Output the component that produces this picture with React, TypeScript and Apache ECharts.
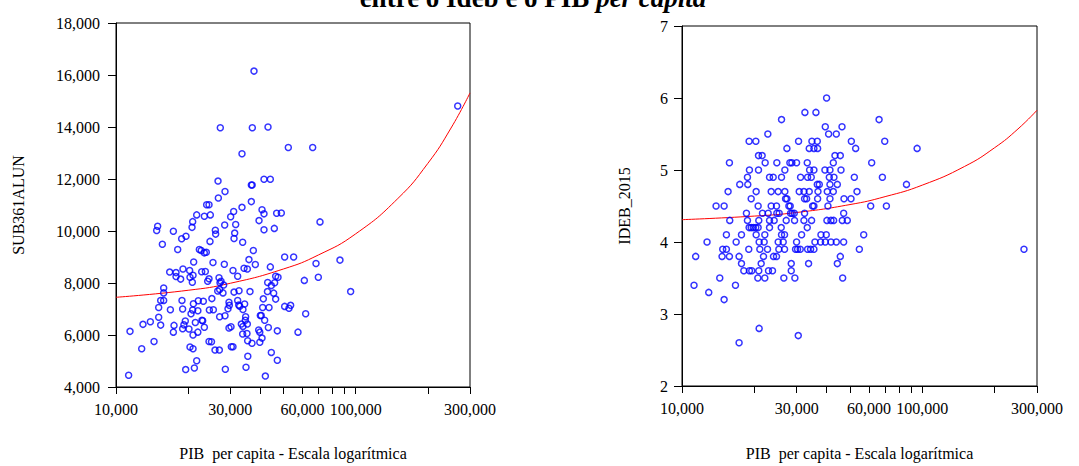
import { useEffect, useRef } from "react";
import * as echarts from "echarts";

// ---------- data ----------
const titleText = "entre o Ideb e o PIB ";
const titleItalic = "per capita";
const xAxisName = "PIB  per capita - Escala logarítmica";
const leftYName = "SUB361ALUN";
const rightYName = "IDEB_2015";

const xLabelValues = [10000, 30000, 60000, 100000, 300000];
const xTickValues = [10000, 20000, 30000, 40000, 50000, 60000, 70000, 80000, 90000, 100000, 200000, 300000];
const xMin = 10000;
const xMax = 300000;

// left panel: [PIB per capita, SUB361ALUN]
const leftPoints: [number, number][] = [
  [37650, 16150], [27240, 13970], [37050, 13970], [43080, 14000], [33550, 12970], [52360, 13210], [66170, 13210],
  [266600, 14810], [26650, 11920], [28500, 11520], [26730, 11270], [36700, 11770], [37000, 11770], [41450, 11990],
  [44050, 11990], [36700, 11130], [23890, 11010], [24440, 11010], [33550, 10910], [21710, 10620], [23370, 10570],
  [24750, 10620], [30970, 10750], [30090, 10550], [40670, 10820], [41450, 10660], [46810, 10680], [48950, 10690],
  [70990, 10350], [39520, 10400], [31580, 10250], [28410, 10230], [20890, 10360], [20760, 10140], [14920, 10180],
  [14780, 10020], [17350, 9990], [25970, 10030], [41450, 10050], [45770, 10100],
  [15610, 9490], [19590, 9800], [18790, 9700], [18090, 9290], [22270, 9290], [22680, 9250], [23370, 9160],
  [23810, 9180], [37410, 9250], [24670, 9600], [33770, 9570], [31080, 9710], [31280, 9920], [26050, 9880],
  [50550, 9000], [55110, 9000], [21090, 8810], [25390, 8790], [35870, 8900], [38140, 8710], [28310, 8720],
  [68320, 8750], [86000, 8880], [44050, 8620], [34210, 8570], [35320, 8540], [19030, 8540], [16750, 8420],
  [17800, 8400], [17800, 8250], [20290, 8480], [20360, 8220], [18610, 8150], [20820, 8030], [20960, 8300],
  [22780, 8430], [23590, 8440], [24130, 8070], [24440, 8160], [30770, 8480], [32190, 8260], [26910, 8200],
  [27160, 8010], [27430, 8070], [28130, 7920], [26570, 7690], [27070, 7750], [27950, 7620], [31080, 7650],
  [32610, 7700], [36230, 7670], [42940, 8020], [44470, 7900], [45920, 8010], [46370, 8260], [47430, 8220],
  [61070, 8100], [69860, 8220], [95300, 7670], [42850, 7670], [45490, 7610], [41180, 7390], [46370, 7380],
  [43500, 7060], [40920, 7060], [50550, 7100], [52700, 7030], [53550, 7140], [40010, 6750], [40370, 6750],
  [41720, 6570], [61860, 6820], [43220, 6290], [47110, 6160], [57460, 6110], [39390, 6190], [39810, 6110],
  [40670, 5880], [39810, 5720], [44470, 5330], [47110, 5030], [41990, 4420], [34870, 4760], [35480, 5180],
  [36940, 5680], [35430, 5780], [35200, 6060], [33770, 6040], [35320, 6420], [33340, 6420], [33860, 6330],
  [34640, 6570], [34750, 6700], [33860, 6980], [32830, 7110], [32510, 7150], [32190, 7330], [34420, 7190],
  [29610, 7260], [29710, 7140], [29330, 7010], [28500, 6740], [27070, 6700], [29610, 6270], [30190, 6320],
  [30280, 5550], [30770, 5550], [28590, 4680], [25120, 7400], [25480, 6970], [24520, 6960], [25890, 5420],
  [26990, 5420], [24440, 5750], [25030, 5740], [23140, 7300], [22050, 7320], [21960, 6930], [21030, 7200],
  [20890, 6960], [20560, 6820], [22840, 6570], [23000, 6550], [21430, 6480], [23370, 6300], [21950, 6110],
  [20160, 6230], [20960, 6000], [20360, 5540], [20960, 5470], [21710, 5010], [21230, 4730], [19530, 4670],
  [19460, 6540], [19200, 6390], [18970, 6240], [17460, 6370], [17350, 6110], [18850, 7330], [18970, 7000],
  [16860, 6970], [15810, 7330], [15360, 7330], [15810, 7810], [15810, 7620], [15070, 7060], [15070, 6680],
  [15360, 6380], [13910, 6510], [12960, 6410], [11440, 6140], [12800, 5470], [14410, 5750], [11290, 4450],
];

// left fitted curve: PIB / SUB361ALUN
const leftFitPib = [10000, 20000, 30000, 50000, 70000, 100000, 150000, 200000, 250000, 300000];
const leftFitSub = [7450, 7720, 7990, 8540, 9080, 9890, 11250, 12600, 13960, 15310];

// right panel: [PIB per capita, IDEB_2015]
const rightPoints: [number, number][] = [
  [39960, 6.0], [32460, 5.8], [36080, 5.8], [25950, 5.7], [66070, 5.7], [39460, 5.6], [46320, 5.6],
  [22760, 5.5], [40740, 5.5], [43850, 5.5],
  [19020, 5.4], [20290, 5.4], [30550, 5.4], [34720, 5.4], [36550, 5.4], [50650, 5.4], [69750, 5.4],
  [27320, 5.3], [33840, 5.3], [35390, 5.3], [36670, 5.3], [52790, 5.3], [95130, 5.3],
  [20810, 5.2], [21550, 5.2], [43300, 5.2], [45570, 5.2],
  [15750, 5.1], [22180, 5.1], [24810, 5.1], [28110, 5.1], [28650, 5.1], [29970, 5.1], [33200, 5.1], [42610, 5.1], [61550, 5.1],
  [19080, 5.0], [20810, 5.0], [26790, 5.0], [33950, 5.0], [35390, 5.0], [39330, 5.0], [41270, 5.0], [45870, 5.0],
  [18720, 4.9], [23130, 4.9], [23960, 4.9], [25950, 4.9], [31140, 4.9], [33310, 4.9], [34500, 4.9], [41010, 4.9], [42880, 4.9], [52120, 4.9], [68200, 4.9],
  [17390, 4.8], [18780, 4.8], [36550, 4.8], [37260, 4.8], [41270, 4.8], [44290, 4.8], [85900, 4.8],
  [15550, 4.7], [20350, 4.7], [23500, 4.7], [25130, 4.7], [26790, 4.7], [30740, 4.7], [32160, 4.7], [33840, 4.7], [36790, 4.7], [40220, 4.7], [42610, 4.7], [53470, 4.7],
  [19400, 4.6], [26970, 4.6], [27320, 4.6], [32360, 4.6], [33000, 4.6], [36670, 4.6], [41270, 4.6], [47210, 4.6], [50490, 4.6],
  [13860, 4.5], [14970, 4.5], [20740, 4.5], [23500, 4.5], [24730, 4.5], [27840, 4.5], [28200, 4.5], [34940, 4.5], [35390, 4.5], [40480, 4.5], [60970, 4.5], [70870, 4.5],
  [18540, 4.4], [21620, 4.4], [22830, 4.4], [24810, 4.4], [25370, 4.4], [28290, 4.4], [28740, 4.4], [29310, 4.4], [32360, 4.4], [47060, 4.4],
  [15800, 4.3], [18720, 4.3], [20870, 4.3], [23130, 4.3], [24180, 4.3], [27140, 4.3], [29400, 4.3], [32160, 4.3], [34610, 4.3], [40090, 4.3], [41670, 4.3], [42750, 4.3], [46450, 4.3], [48720, 4.3],
  [19020, 4.2], [19400, 4.2], [19800, 4.2], [20270, 4.2], [20740, 4.2], [23130, 4.2], [25870, 4.2], [33200, 4.2],
  [15300, 4.1], [17680, 4.1], [20350, 4.1], [22110, 4.1], [25950, 4.1], [26710, 4.1], [31450, 4.1], [37860, 4.1], [39830, 4.1], [57020, 4.1],
  [12710, 4.0], [16800, 4.0], [20940, 4.0], [21970, 4.0], [25130, 4.0], [26370, 4.0], [29970, 4.0], [35740, 4.0], [37740, 4.0], [39460, 4.0], [41670, 4.0], [43850, 4.0], [47060, 4.0],
  [14770, 3.9], [15300, 3.9], [18960, 3.9], [21080, 3.9], [22690, 3.9], [25290, 3.9], [26710, 3.9], [29680, 3.9], [30260, 3.9], [31040, 3.9], [33310, 3.9], [34280, 3.9], [35390, 3.9], [54690, 3.9], [264800, 3.9],
  [11400, 3.8], [14680, 3.8], [15750, 3.8], [17280, 3.8], [21830, 3.8], [24030, 3.8], [24730, 3.8], [45570, 3.8],
  [17680, 3.7], [21350, 3.7], [28480, 3.7], [33630, 3.7], [44290, 3.7],
  [18080, 3.6], [19080, 3.6], [19510, 3.6], [20870, 3.6], [22900, 3.6], [23800, 3.6], [28480, 3.6],
  [14360, 3.5], [20680, 3.5], [22110, 3.5], [26530, 3.5], [29490, 3.5], [46610, 3.5],
  [11220, 3.4], [16690, 3.4], [12920, 3.3], [14970, 3.2], [20940, 2.8], [30460, 2.7], [17280, 2.6],
];

// right fitted curve: PIB / IDEB_2015
const rightFitPib = [10000, 20000, 30000, 50000, 70000, 100000, 150000, 200000, 250000, 300000];
const rightFitIdeb = [4.31, 4.36, 4.41, 4.52, 4.63, 4.79, 5.05, 5.31, 5.57, 5.83];

// ---------- helpers ----------
const FONT = "'Liberation Serif', 'Times New Roman', serif";
const lg = (v: number) => Math.log10(v);
const fmt = (v: number) => Math.round(v).toLocaleString("en-US");

function makeXAxis(gridIndex: number, nameGap: number) {
  return {
    type: "value" as const,
    gridIndex,
    min: lg(xMin),
    max: lg(xMax),
    name: xAxisName,
    nameLocation: "middle" as const,
    nameGap,
    nameTextStyle: { color: "#000", fontFamily: FONT, fontSize: 16 },
    splitLine: { show: false },
    axisLine: { show: true, onZero: false, lineStyle: { color: "#000", width: 1 } },
    axisTick: {
      show: true,
      length: 7,
      customValues: xTickValues.map(lg),
      lineStyle: { color: "#000", width: 1 },
    },
    axisLabel: {
      customValues: xLabelValues.map(lg),
      formatter: (v: number) => fmt(Math.pow(10, v)),
      color: "#000",
      fontFamily: FONT,
      fontSize: 16,
      margin: 14,
    },
  };
}

export default function App() {
  const ref = useRef<HTMLDivElement>(null);

  useEffect(() => {
    if (!ref.current) return;
    const chart = echarts.init(ref.current, null, { renderer: "svg" });

    const circleStyle = {
      color: "rgba(0,0,0,0)",
      borderColor: "#0000ff",
      borderWidth: 1.5,
    };

    chart.setOption({
      animation: false,
      backgroundColor: "#ffffff",
      grid: [
        { left: 116, top: 23, width: 354, height: 365, show: true, borderColor: "#000", borderWidth: 1, backgroundColor: "transparent" },
        { left: 682, top: 26, width: 355, height: 365, show: true, borderColor: "#000", borderWidth: 1, backgroundColor: "transparent" },
      ],
      xAxis: [makeXAxis(0, 58), makeXAxis(1, 59)],
      yAxis: [
        {
          type: "value",
          gridIndex: 0,
          min: 4000,
          max: 18000,
          interval: 2000,
          name: leftYName,
          nameLocation: "middle",
          nameGap: 90,
          nameTextStyle: { color: "#000", fontFamily: FONT, fontSize: 16 },
          splitLine: { show: false },
          axisLine: { show: true, lineStyle: { color: "#000", width: 1 } },
          axisTick: { show: true, length: 8, lineStyle: { color: "#000", width: 1 } },
          axisLabel: { color: "#000", fontFamily: FONT, fontSize: 16, margin: 16, formatter: (v: number) => fmt(v) },
        },
        {
          type: "value",
          gridIndex: 1,
          min: 2,
          max: 7,
          interval: 1,
          name: rightYName,
          nameLocation: "middle",
          nameGap: 50,
          nameTextStyle: { color: "#000", fontFamily: FONT, fontSize: 16 },
          splitLine: { show: false },
          axisLine: { show: true, lineStyle: { color: "#000", width: 1 } },
          axisTick: { show: true, length: 8, lineStyle: { color: "#000", width: 1 } },
          axisLabel: { color: "#000", fontFamily: FONT, fontSize: 16, margin: 14 },
        },
      ],
      graphic: [
        {
          type: "text",
          x: 533,
          y: -2,
          style: {
            text: `{b|${titleText}}{i|${titleItalic}}`,
            align: "center",
            verticalAlign: "middle",
            fill: "#000",
            rich: {
              b: { fontFamily: FONT, fontSize: 27, fontWeight: "bold", fill: "#000" },
              i: { fontFamily: FONT, fontSize: 27, fontWeight: "bold", fontStyle: "italic", fill: "#000" },
            },
          },
        },
      ],
      series: [
        {
          type: "line",
          xAxisIndex: 0,
          yAxisIndex: 0,
          data: leftFitPib.map((p, i) => [lg(p), leftFitSub[i]]),
          smooth: true,
          showSymbol: false,
          lineStyle: { color: "#ff0000", width: 1 },
          z: 1,
        },
        {
          type: "scatter",
          xAxisIndex: 0,
          yAxisIndex: 0,
          data: leftPoints.map(([p, v]) => [lg(p), v]),
          symbol: "circle",
          symbolSize: 6,
          itemStyle: circleStyle,
          z: 2,
        },
        {
          type: "line",
          xAxisIndex: 1,
          yAxisIndex: 1,
          data: rightFitPib.map((p, i) => [lg(p), rightFitIdeb[i]]),
          smooth: true,
          showSymbol: false,
          lineStyle: { color: "#ff0000", width: 1 },
          z: 1,
        },
        {
          type: "scatter",
          xAxisIndex: 1,
          yAxisIndex: 1,
          data: rightPoints.map(([p, v]) => [lg(p), v]),
          symbol: "circle",
          symbolSize: 6,
          itemStyle: circleStyle,
          z: 2,
        },
      ],
    });

    return () => chart.dispose();
  }, []);

  return (
    <div
      ref={ref}
      style={{ position: "absolute", left: 0, top: 0, width: 1079, height: 466, background: "#fff" }}
    />
  );
}
